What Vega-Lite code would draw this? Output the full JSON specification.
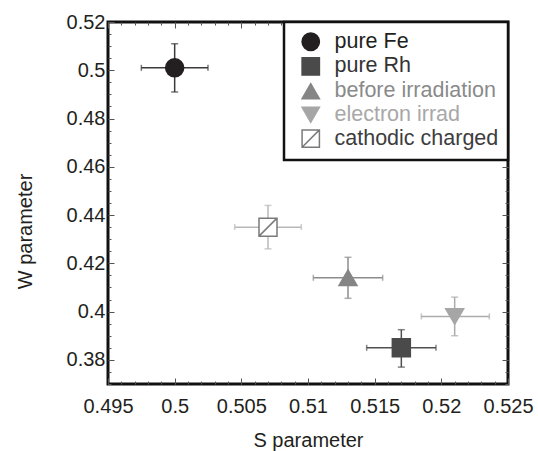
{
  "$schema": "https://vega.github.io/schema/vega-lite/v6.json",
  "width": 400,
  "height": 362,
  "autosize": {"type": "none"},
  "padding": {"left": 108, "top": 22, "right": 30, "bottom": 67},
  "background": "white",
  "config": {
    "font": "Liberation Sans",
    "view": {"stroke": "#111111", "strokeWidth": 3},
    "axis": {
      "grid": false,
      "domain": false,
      "tickColor": "#555555",
      "tickWidth": 1,
      "labelOverlap": false,
      "labelFlush": false,
      "labelFont": "Liberation Sans",
      "labelFontSize": 20,
      "labelColor": "#231f20",
      "titleFont": "Liberation Sans",
      "titleFontSize": 20,
      "titleFontWeight": "normal",
      "titleColor": "#231f20"
    },
    "legend": {
      "padding": 9,
      "offset": 0,
      "fillColor": "white",
      "strokeColor": "#111111",
      "strokeWidth": 2.5,
      "cornerRadius": 0,
      "symbolSize": 300,
      "symbolStrokeWidth": 1.5,
      "symbolOffset": 7,
      "labelOffset": 13,
      "labelFont": "Liberation Sans",
      "labelFontSize": 21.5,
      "rowPadding": 0.7,
      "labelLimit": 300
    }
  },
  "data": {
    "values": [
      {"series": "pure Fe", "s": 0.500, "w": 0.501, "s_lo": 0.4975, "s_hi": 0.5025, "w_lo": 0.491, "w_hi": 0.511},
      {"series": "pure Rh", "s": 0.517, "w": 0.385, "s_lo": 0.5144, "s_hi": 0.5196, "w_lo": 0.377, "w_hi": 0.3925},
      {"series": "before irradiation", "s": 0.513, "w": 0.414, "s_lo": 0.5104, "s_hi": 0.5156, "w_lo": 0.4055, "w_hi": 0.4225},
      {"series": "electron irrad", "s": 0.521, "w": 0.398, "s_lo": 0.5185, "s_hi": 0.5236, "w_lo": 0.390, "w_hi": 0.406},
      {"series": "cathodic charged", "s": 0.507, "w": 0.435, "s_lo": 0.5045, "s_hi": 0.5095, "w_lo": 0.426, "w_hi": 0.444}
    ]
  },
  "resolve": {"axis": {"x": "independent", "y": "independent"}},
  "layer": [
    {
      "mark": {"type": "rule", "strokeWidth": 1.5},
      "encoding": {
        "x": {
          "field": "s_lo", "type": "quantitative",
          "scale": {"domain": [0.495, 0.525], "nice": false, "zero": false},
          "axis": {
            "orient": "bottom", "title": "S parameter",
            "values": [0.495, 0.5, 0.505, 0.51, 0.515, 0.52, 0.525],
            "format": "~g", "tickSize": -6, "labelPadding": 18, "titlePadding": 14
          }
        },
        "x2": {"field": "s_hi"},
        "y": {
          "field": "w", "type": "quantitative",
          "scale": {"domain": [0.37, 0.52], "nice": false, "zero": false},
          "axis": {
            "orient": "left", "title": "W parameter",
            "values": [0.38, 0.4, 0.42, 0.44, 0.46, 0.48, 0.5, 0.52],
            "format": "~g", "tickSize": -6, "labelPadding": 9,
            "titleX": -77, "titleY": 209, "titleBaseline": "alphabetic", "titleAngle": -90
          }
        },
        "color": {
          "field": "series", "type": "nominal", "legend": null,
          "scale": {
            "domain": ["cathodic charged", "electron irrad", "before irradiation", "pure Rh", "pure Fe"],
            "range": ["#b8b8b8", "#ababab", "#8c8c8c", "#4f4f4f", "#3b3b3b"]
          }
        }
      }
    },
    {
      "mark": {"type": "rule", "strokeWidth": 1.5},
      "encoding": {
        "x": {
          "field": "s", "type": "quantitative",
          "axis": {
            "orient": "bottom", "title": null, "labels": false, "tickSize": -3,
            "values": [0.495, 0.496, 0.497, 0.498, 0.499, 0.5, 0.501, 0.502, 0.503, 0.504, 0.505, 0.506, 0.507, 0.508, 0.509, 0.51, 0.511, 0.512, 0.513, 0.514, 0.515, 0.516, 0.517, 0.518, 0.519, 0.52, 0.521, 0.522, 0.523, 0.524, 0.525]
          }
        },
        "y": {
          "field": "w_lo", "type": "quantitative",
          "axis": {
            "orient": "left", "title": null, "labels": false, "tickSize": -3,
            "values": [0.37, 0.375, 0.38, 0.385, 0.39, 0.395, 0.4, 0.405, 0.41, 0.415, 0.42, 0.425, 0.43, 0.435, 0.44, 0.445, 0.45, 0.455, 0.46, 0.465, 0.47, 0.475, 0.48, 0.485, 0.49, 0.495, 0.5, 0.505, 0.51, 0.515, 0.52]
          }
        },
        "y2": {"field": "w_hi"},
        "color": {"field": "series", "type": "nominal", "legend": null}
      }
    },
    {
      "mark": {"type": "tick", "orient": "vertical", "size": 6, "thickness": 1.5},
      "encoding": {
        "x": {
          "field": "s_lo", "type": "quantitative",
          "axis": {
            "orient": "top", "title": null, "labels": false, "tickSize": -6,
            "values": [0.495, 0.5, 0.505, 0.51, 0.515, 0.52, 0.525]
          }
        },
        "y": {
          "field": "w", "type": "quantitative",
          "axis": {
            "orient": "right", "title": null, "labels": false, "tickSize": -6,
            "values": [0.38, 0.4, 0.42, 0.44, 0.46, 0.48, 0.5, 0.52]
          }
        },
        "color": {"field": "series", "type": "nominal", "legend": null}
      }
    },
    {
      "mark": {"type": "tick", "orient": "vertical", "size": 6, "thickness": 1.5},
      "encoding": {
        "x": {
          "field": "s_hi", "type": "quantitative",
          "axis": {
            "orient": "top", "title": null, "labels": false, "tickSize": -3,
            "values": [0.495, 0.496, 0.497, 0.498, 0.499, 0.5, 0.501, 0.502, 0.503, 0.504, 0.505, 0.506, 0.507, 0.508, 0.509, 0.51, 0.511, 0.512, 0.513, 0.514, 0.515, 0.516, 0.517, 0.518, 0.519, 0.52, 0.521, 0.522, 0.523, 0.524, 0.525]
          }
        },
        "y": {
          "field": "w", "type": "quantitative",
          "axis": {
            "orient": "right", "title": null, "labels": false, "tickSize": -3,
            "values": [0.37, 0.375, 0.38, 0.385, 0.39, 0.395, 0.4, 0.405, 0.41, 0.415, 0.42, 0.425, 0.43, 0.435, 0.44, 0.445, 0.45, 0.455, 0.46, 0.465, 0.47, 0.475, 0.48, 0.485, 0.49, 0.495, 0.5, 0.505, 0.51, 0.515, 0.52]
          }
        },
        "color": {"field": "series", "type": "nominal", "legend": null}
      }
    },
    {
      "mark": {"type": "tick", "orient": "horizontal", "size": 7, "thickness": 1.5},
      "encoding": {
        "x": {"field": "s", "type": "quantitative", "axis": null},
        "y": {"field": "w_lo", "type": "quantitative", "axis": null},
        "color": {"field": "series", "type": "nominal", "legend": null}
      }
    },
    {
      "mark": {"type": "tick", "orient": "horizontal", "size": 7, "thickness": 1.5},
      "encoding": {
        "x": {"field": "s", "type": "quantitative", "axis": null},
        "y": {"field": "w_hi", "type": "quantitative", "axis": null},
        "color": {"field": "series", "type": "nominal", "legend": null}
      }
    },
    {
      "mark": {"type": "point", "size": 324, "strokeWidth": 1.5, "opacity": 1},
      "encoding": {
        "x": {"field": "s", "type": "quantitative", "axis": null},
        "y": {"field": "w", "type": "quantitative", "axis": null},
        "fill": {
          "field": "series", "type": "nominal",
          "scale": {
            "domain": ["pure Fe", "pure Rh", "before irradiation", "electron irrad", "cathodic charged"],
            "range": ["#231f20", "#4a4a4a", "#858585", "#a6a6a6", "#ffffff"]
          },
          "legend": {
            "title": null, "orient": "top-right",
            "labelColor": {"expr": "datum.value === 'pure Rh' ? '#333333' : datum.value === 'before irradiation' ? '#8a8a8a' : datum.value === 'electron irrad' ? '#a8a8a8' : datum.value === 'cathodic charged' ? '#3d3d3d' : '#231f20'"}
          }
        },
        "stroke": {
          "field": "series", "type": "nominal",
          "scale": {
            "domain": ["pure Fe", "pure Rh", "before irradiation", "electron irrad", "cathodic charged"],
            "range": ["#231f20", "#4a4a4a", "#858585", "#a6a6a6", "#7a7a7a"]
          },
          "legend": {
            "title": null, "orient": "top-right",
            "labelColor": {"expr": "datum.value === 'pure Rh' ? '#333333' : datum.value === 'before irradiation' ? '#8a8a8a' : datum.value === 'electron irrad' ? '#a8a8a8' : datum.value === 'cathodic charged' ? '#3d3d3d' : '#231f20'"}
          }
        },
        "shape": {
          "field": "series", "type": "nominal",
          "scale": {
            "domain": ["pure Fe", "pure Rh", "before irradiation", "electron irrad", "cathodic charged"],
            "range": ["circle", "square", "triangle-up", "triangle-down", "M-1,-1H1V1H-1Z M-1,1L1,-1"]
          },
          "legend": {
            "title": null, "orient": "top-right",
            "labelColor": {"expr": "datum.value === 'pure Rh' ? '#333333' : datum.value === 'before irradiation' ? '#8a8a8a' : datum.value === 'electron irrad' ? '#a8a8a8' : datum.value === 'cathodic charged' ? '#3d3d3d' : '#231f20'"}
          }
        }
      }
    }
  ]
}
